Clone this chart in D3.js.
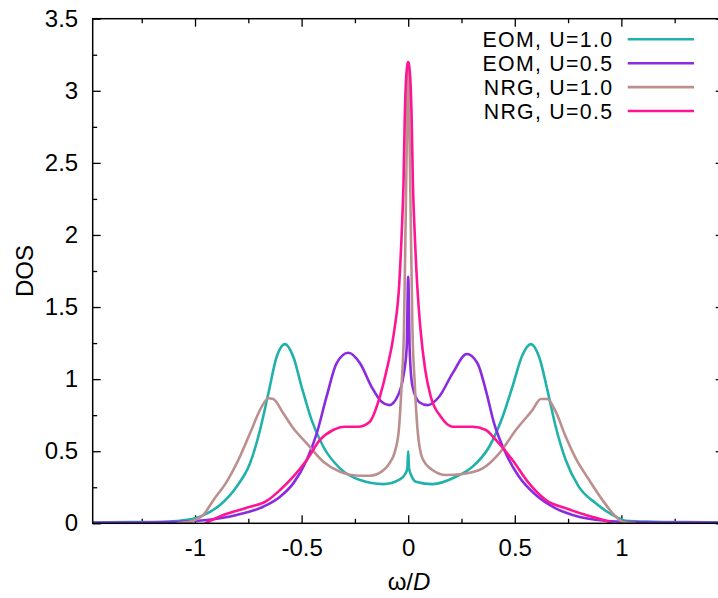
<!DOCTYPE html>
<html>
<head>
<meta charset="utf-8">
<script src="https://cdn.jsdelivr.net/npm/d3@7"></script>
<style>
  html, body { margin: 0; padding: 0; background: #fff; }
  svg { display: block; font-family: 'Liberation Sans', Arial, sans-serif; }
</style>
</head>
<body>
<svg id="chart" width="718" height="598"></svg>
<script>
// ---------------- data ----------------
const seriesNames = ["EOM, U=1.0", "EOM, U=0.5", "NRG, U=1.0", "NRG, U=0.5"];
const seriesColors = ["#20b2aa", "#8a2be2", "#bc8f8f", "#ff1493"];

const eomU10_w = [-1.48, -1.3, -1.15, -1.07, -0.977, -0.883, -0.805, -0.742, -0.695, -0.656, -0.617, -0.578, -0.539, -0.5, -0.453, -0.398, -0.32, -0.226, -0.117, -0.039, -0.015, -0.004, 0, 0.004, 0.015, 0.036, 0.114, 0.224, 0.302, 0.38, 0.443, 0.489, 0.536, 0.575, 0.614, 0.653, 0.692, 0.739, 0.80, 0.88, 0.958, 1.02, 1.15, 1.3, 1.48];
const eomU10_d = [0.006, 0.008, 0.011, 0.018, 0.046, 0.127, 0.254, 0.416, 0.647, 0.90, 1.155, 1.243, 1.155, 0.947, 0.716, 0.531, 0.381, 0.30, 0.272, 0.305, 0.34, 0.38, 0.50, 0.38, 0.33, 0.289, 0.272, 0.323, 0.393, 0.531, 0.739, 0.947, 1.167, 1.243, 1.155, 0.924, 0.67, 0.439, 0.254, 0.139, 0.058, 0.018, 0.011, 0.008, 0.006];

const eomU05_w = [-1.48, -1.2, -1.07, -0.945, -0.805, -0.68, -0.601, -0.539, -0.476, -0.429, -0.383, -0.336, -0.281, -0.226, -0.172, -0.125, -0.089, -0.047, -0.023, -0.007, 0, 0.007, 0.02, 0.052, 0.091, 0.145, 0.208, 0.275, 0.325, 0.364, 0.403, 0.458, 0.52, 0.599, 0.692, 0.80, 0.927, 1.06, 1.2, 1.48];
const eomU05_d = [0.004, 0.006, 0.010, 0.023, 0.058, 0.115, 0.185, 0.277, 0.439, 0.624, 0.878, 1.11, 1.183, 1.11, 0.947, 0.843, 0.82, 0.89, 1.017, 1.22, 1.71, 1.2, 0.95, 0.84, 0.82, 0.878, 1.04, 1.174, 1.11, 0.924, 0.693, 0.485, 0.323, 0.196, 0.104, 0.046, 0.018, 0.008, 0.005, 0.004];

const nrgU10_w = [-1.086, -1.008, -0.961, -0.914, -0.851, -0.797, -0.742, -0.687, -0.656, -0.633, -0.586, -0.539, -0.476, -0.398, -0.32, -0.226, -0.179, -0.125, -0.088, -0.065, -0.044, -0.03, -0.02, -0.013, -0.006, 0, 0.006, 0.013, 0.02, 0.03, 0.044, 0.067, 0.114, 0.177, 0.255, 0.349, 0.427, 0.505, 0.583, 0.622, 0.653, 0.692, 0.739, 0.786, 0.849, 0.911, 0.966, 1.005, 1.07];
const nrgU10_d = [0.0, 0.018, 0.058, 0.16, 0.289, 0.439, 0.624, 0.809, 0.867, 0.862, 0.763, 0.659, 0.555, 0.427, 0.358, 0.33, 0.33, 0.358, 0.416, 0.485, 0.647, 0.99, 1.34, 2.0, 2.7, 3.20, 2.7, 2.0, 1.34, 0.99, 0.647, 0.45, 0.37, 0.335, 0.342, 0.381, 0.485, 0.647, 0.786, 0.862, 0.862, 0.774, 0.60, 0.45, 0.30, 0.162, 0.058, 0.011, 0.0];

const nrgU05_w = [-0.953, -0.867, -0.758, -0.664, -0.601, -0.539, -0.476, -0.414, -0.352, -0.297, -0.234, -0.18, -0.133, -0.101, -0.065, -0.042, -0.03, -0.022, -0.016, -0.011, -0.004, 0, 0.004, 0.011, 0.016, 0.022, 0.03, 0.042, 0.058, 0.08, 0.106, 0.153, 0.208, 0.302, 0.364, 0.411, 0.489, 0.567, 0.646, 0.739, 0.833, 0.927, 0.958];
const nrgU05_d = [0.0, 0.058, 0.108, 0.155, 0.231, 0.323, 0.439, 0.578, 0.647, 0.67, 0.67, 0.705, 0.878, 1.063, 1.34, 1.66, 2.03, 2.36, 2.82, 3.05, 3.18, 3.20, 3.18, 3.05, 2.82, 2.36, 2.03, 1.66, 1.34, 1.063, 0.878, 0.739, 0.67, 0.67, 0.647, 0.578, 0.439, 0.277, 0.162, 0.104, 0.058, 0.018, 0.0];

const xMajorTicks = [-1, -0.5, 0, 0.5, 1];
const xMajorLabels = ["-1", "-0.5", "0", "0.5", "1"];
const xMinorTicks = [-1.25, -0.75, -0.25, 0.25, 0.75, 1.25];
const yMajorTicks = [0, 0.5, 1, 1.5, 2, 2.5, 3, 3.5];
const yMajorLabels = ["0", "0.5", "1", "1.5", "2", "2.5", "3", "3.5"];
const yMinorTicks = [0.25, 0.75, 1.25, 1.75, 2.25, 2.75, 3.25];
const xDomain = [-1.48, 1.48];
const yDomain = [0, 3.5];
const xTitle = "ω/";
const xTitleItalic = "D";
const yTitle = "DOS";

// ---------------- layout ----------------
const svg = d3.select("#chart");
const L = 92.7, R = 723.7, T = 18.7, B = 523.3;
const FS = 24;
const LFS = 21.3;

const x = d3.scaleLinear().domain(xDomain).range([L, R]);
const y = d3.scaleLinear().domain(yDomain).range([B, T]);

const series = [
  { w: eomU10_w, d: eomU10_d },
  { w: eomU05_w, d: eomU05_d },
  { w: nrgU10_w, d: nrgU10_d },
  { w: nrgU05_w, d: nrgU05_d }
].map((s, i) => ({
  name: seriesNames[i], color: seriesColors[i],
  pts: s.w.map((w, j) => [w, s.d[j]])
}));

svg.append("defs").append("clipPath").attr("id", "plotclip")
  .append("rect").attr("x", L).attr("y", T).attr("width", R - L).attr("height", B - T);

// axes
function styleAxis(g) {
  g.select(".domain").remove();
  g.selectAll(".tick line").attr("stroke", "#000").attr("stroke-width", 1.3);
  g.selectAll("text").attr("font-size", FS).attr("fill", "#000")
    .attr("font-family", "'Liberation Sans', Arial, sans-serif");
}

svg.append("g").attr("transform", `translate(0,${B})`)
  .call(d3.axisBottom(x).tickValues(xMajorTicks).tickSize(-8).tickPadding(15.8)
    .tickFormat((d, i) => xMajorLabels[i]))
  .call(styleAxis);
svg.append("g").attr("transform", `translate(0,${B})`)
  .call(d3.axisBottom(x).tickValues(xMinorTicks).tickSize(-4.5).tickFormat(""))
  .call(styleAxis);
svg.append("g").attr("transform", `translate(0,${T})`)
  .call(d3.axisTop(x).tickValues(xMajorTicks).tickSize(-8).tickFormat(""))
  .call(styleAxis);
svg.append("g").attr("transform", `translate(0,${T})`)
  .call(d3.axisTop(x).tickValues(xMinorTicks).tickSize(-4.5).tickFormat(""))
  .call(styleAxis);

svg.append("g").attr("transform", `translate(${L},0)`)
  .call(d3.axisLeft(y).tickValues(yMajorTicks).tickSize(-8).tickPadding(14.5)
    .tickFormat((d, i) => yMajorLabels[i]))
  .call(styleAxis);
svg.append("g").attr("transform", `translate(${L},0)`)
  .call(d3.axisLeft(y).tickValues(yMinorTicks).tickSize(-4.5).tickFormat(""))
  .call(styleAxis);
svg.append("g").attr("transform", `translate(${R},0)`)
  .call(d3.axisRight(y).tickValues(yMajorTicks).tickSize(-8).tickFormat(""))
  .call(styleAxis);
svg.append("g").attr("transform", `translate(${R},0)`)
  .call(d3.axisRight(y).tickValues(yMinorTicks).tickSize(-4.5).tickFormat(""))
  .call(styleAxis);

// curves
const line = d3.line().x(p => x(p[0])).y(p => y(p[1])).curve(d3.curveMonotoneX);
const curves = svg.append("g").attr("clip-path", "url(#plotclip)");
series.forEach(s => {
  curves.append("path").datum(s.pts)
    .attr("d", line)
    .attr("fill", "none")
    .attr("stroke", s.color)
    .attr("stroke-width", 2.6)
    .attr("stroke-linejoin", "round");
});

// border
svg.append("rect").attr("x", L).attr("y", T).attr("width", R - L).attr("height", B - T)
  .attr("fill", "none").attr("stroke", "#000").attr("stroke-width", 1.5);

// legend
const legend = svg.append("g");
series.forEach((s, i) => {
  const cy = 39.3 + i * 23.9;
  legend.append("text").attr("x", 613.3).attr("y", cy + 7.6)
    .attr("text-anchor", "end").attr("font-size", LFS).attr("fill", "#000")
    .attr("letter-spacing", "1.3px")
    .text(s.name);
  legend.append("line").attr("x1", 627.7).attr("x2", 694).attr("y1", cy).attr("y2", cy)
    .attr("stroke", s.color).attr("stroke-width", 2.6);
});

// axis titles
const xt = svg.append("text").attr("x", 409).attr("y", 590)
  .attr("text-anchor", "middle").attr("font-size", FS).attr("fill", "#000");
xt.append("tspan").text(xTitle);
xt.append("tspan").attr("font-style", "italic").text(xTitleItalic);

svg.append("text").attr("transform", "translate(33.3,271) rotate(-90)")
  .attr("text-anchor", "middle").attr("font-size", FS).attr("fill", "#000")
  .text(yTitle);
</script>
</body>
</html>
